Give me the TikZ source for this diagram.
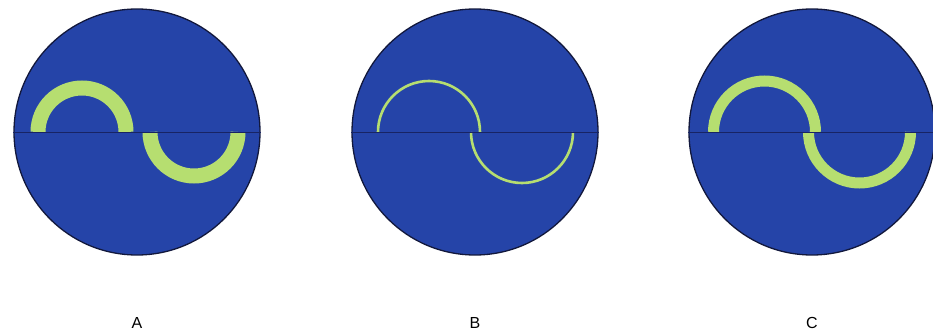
\documentclass[tikz,border=0pt]{standalone}
\usepackage{fontspec}
\setmainfont{Liberation Sans}
\usepackage{xcolor}
\usepackage{tikz}
\usetikzlibrary{positioning, calc}

\definecolor{discblue}{RGB}{37,68,168}
\definecolor{discline}{RGB}{18,24,60}
\definecolor{axisnavy}{RGB}{24,36,100}
\definecolor{wavegreen}{RGB}{182,222,112}

\begin{document}
\begin{tikzpicture}[
    x=1pt, y=1pt,
    disc/.style={circle, draw=discline, fill=discblue, line width=1.3pt, minimum size=246pt, inner sep=0pt},
    axis/.style={draw=axisnavy, line width=0.9pt},
    wave/.style={draw=wavegreen, line cap=butt},
    lbl/.style={font=\fontsize{16}{16}\selectfont, inner sep=0pt, text height=11.5pt, text depth=0pt},
]
\useasboundingbox (0,0) rectangle (933,335);

\node[disc] (dA) at (137,203) {};
\node[disc] (dB) at (475,203) {};
\node[disc] (dC) at (812,203) {};

\node[lbl, below=61pt of dA] (lA) {A};
\node[lbl, below=61pt of dB] (lB) {B};
\node[lbl, below=61pt of dC] (lC) {C};

% A: thick, short radius, arcs apart
\draw[wave, line width=15pt] ($(dA.center)+(-99,0)$) arc[start angle=180, end angle=0, radius=44];
\draw[wave, line width=15pt] ($(dA.center)+(13,0)$) arc[start angle=180, end angle=360, radius=44];
% B: thin, arcs overlap
\draw[wave, line width=2.6pt] ($(dB.center)+(-97,0)$) arc[start angle=180, end angle=0, radius=51];
\draw[wave, line width=2.6pt] ($(dB.center)+(-4,0)$) arc[start angle=180, end angle=360, radius=51];
% C: medium
\draw[wave, line width=11pt] ($(dC.center)+(-98.5,0)$) arc[start angle=180, end angle=0, radius=51];
\draw[wave, line width=11pt] ($(dC.center)+(-3.5,0)$) arc[start angle=180, end angle=360, radius=51];

\draw[axis] (dA.west) -- (dA.east);
\draw[axis] (dB.west) -- (dB.east);
\draw[axis] (dC.west) -- (dC.east);
\end{tikzpicture}
\end{document}
